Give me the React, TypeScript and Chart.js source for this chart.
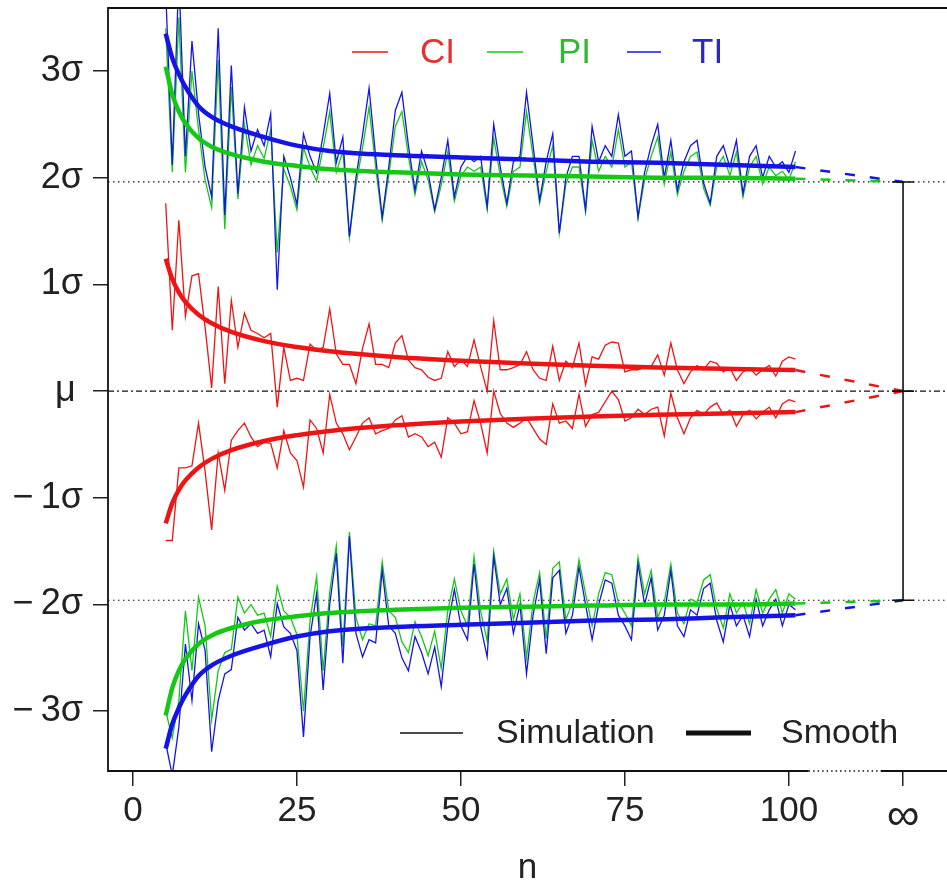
import React, { useEffect, useRef } from 'react';
import { Chart, registerables } from 'chart.js';

Chart.register(...registerables);

// ---------- data ----------
const simN: number[] = Array.from({ length: 97 }, (_, i) => i + 5); // n = 5 .. 101

const tiUpper = [3.75, 2.12, 3.9, 2.2, 3.28, 2.6, 2.1, 1.82, 3.4, 1.65, 3.05, 1.85, 2.66, 2.25, 2.45, 2.3, 2.6, 0.95, 2.2, 2.0,
  1.75, 2.41, 2.2, 2.05, 2.4, 2.79, 2.14, 2.38, 1.45, 2.0, 2.4, 2.84, 2.2, 1.63, 2.1, 2.63, 2.8, 2.3, 1.88, 2.25,
  2.05, 1.7, 2.0, 2.35, 1.82, 2.1, 2.2, 2.15, 2.2, 1.73, 2.5, 2.1, 1.76, 2.15, 2.2, 2.8, 2.3, 1.79, 2.15, 2.41,
  1.48, 2.0, 2.2, 2.2, 1.7, 2.48, 2.15, 2.3, 2.2, 2.59, 2.2, 2.25, 1.63, 2.05, 2.3, 2.5, 2.0, 2.35, 1.88, 2.15,
  2.3, 2.35, 1.95, 1.76, 2.2, 2.3, 2.1, 2.35, 1.85, 2.2, 2.3, 2.0, 2.2, 2.1, 2.15, 2.05, 2.25];

const piUpper = [3.4, 2.05, 3.5, 2.05, 3.0, 2.45, 1.98, 1.72, 3.1, 1.52, 2.85, 1.8, 2.5, 2.12, 2.3, 2.18, 2.45, 1.3, 2.08, 1.92,
  1.7, 2.28, 2.1, 1.97, 2.28, 2.62, 2.05, 2.25, 1.44, 1.93, 2.28, 2.66, 2.1, 1.6, 2.02, 2.48, 2.62, 2.2, 1.84, 2.15,
  1.98, 1.68, 1.93, 2.24, 1.78, 2.02, 2.1, 2.06, 2.1, 1.7, 2.37, 2.02, 1.73, 2.06, 2.1, 2.62, 2.2, 1.76, 2.06, 2.3,
  1.48, 1.94, 2.1, 2.1, 1.68, 2.35, 2.06, 2.2, 2.1, 2.45, 2.1, 2.15, 1.62, 1.98, 2.2, 2.38, 1.94, 2.24, 1.84, 2.06,
  2.2, 2.24, 1.9, 1.74, 2.1, 2.2, 2.02, 2.24, 1.82, 2.1, 2.2, 1.94, 2.1, 2.02, 2.06, 1.98, 2.15];

const ciUpper = [1.76, 0.57, 1.6, 0.7, 1.08, 1.1, 0.6, 0.03, 0.98, 0.07, 0.85, 0.41, 0.73, 0.57, 0.54, 0.5, 0.54, -0.15, 0.41, 0.1,
  0.12, 0.1, 0.44, 0.38, 0.41, 0.77, 0.35, 0.25, 0.25, 0.07, 0.4, 0.63, 0.25, 0.25, 0.22, 0.45, 0.52, 0.29, 0.22, 0.2,
  0.13, 0.1, 0.12, 0.37, 0.23, 0.29, 0.23, 0.48, 0.23, 0.0, 0.66, 0.2, 0.2, 0.22, 0.25, 0.37, 0.2, 0.12, 0.1, 0.42,
  0.1, 0.28, 0.22, 0.45, 0.06, 0.32, 0.3, 0.43, 0.46, 0.45, 0.18, 0.2, 0.2, 0.22, 0.23, 0.34, 0.15, 0.45, 0.2, 0.07,
  0.18, 0.24, 0.2, 0.28, 0.26, 0.18, 0.22, 0.1, 0.18, 0.22, 0.15, 0.2, 0.24, 0.14, 0.28, 0.32, 0.3];

const ciLower = [-1.4, -1.4, -0.72, -0.72, -0.7, -0.3, -0.75, -1.3, -0.58, -0.93, -0.46, -0.37, -0.3, -0.43, -0.52, -0.48, -0.49, -0.72, -0.37, -0.58,
  -0.65, -0.9, -0.27, -0.35, -0.58, -0.03, -0.3, -0.4, -0.55, -0.43, -0.3, -0.25, -0.4, -0.37, -0.35, -0.27, -0.23, -0.43, -0.4, -0.43,
  -0.52, -0.48, -0.62, -0.25, -0.3, -0.4, -0.38, -0.09, -0.3, -0.58, 0.0, -0.21, -0.3, -0.34, -0.3, -0.25, -0.35, -0.45, -0.5, -0.12,
  -0.3, -0.28, -0.35, -0.03, -0.33, -0.22, -0.2, -0.1, 0.0, -0.08, -0.28, -0.25, -0.17, -0.22, -0.17, -0.15, -0.42, -0.02, -0.25, -0.4,
  -0.25, -0.18, -0.22, -0.15, -0.11, -0.22, -0.18, -0.33, -0.22, -0.18, -0.26, -0.2, -0.15, -0.25, -0.12, -0.08, -0.1];

const tiLower = [-3.3, -3.6, -3.15, -2.37, -2.9, -2.18, -2.43, -3.38, -2.9, -2.65, -2.61, -2.12, -2.24, -2.18, -2.27, -2.24, -2.49, -1.99, -2.21, -2.27,
  -2.43, -3.24, -2.3, -1.9, -2.8, -2.0, -1.52, -2.55, -1.36, -2.27, -2.49, -2.33, -2.36, -1.68, -2.2, -2.27, -2.5, -2.62, -2.3, -2.45,
  -2.65, -2.4, -2.77, -2.2, -1.86, -2.2, -2.33, -1.62, -2.2, -2.49, -1.55, -2.0, -1.85, -2.27, -2.0, -2.65, -2.1, -1.77, -2.46, -1.75,
  -1.68, -2.27, -2.1, -1.65, -2.0, -2.33, -2.0, -1.77, -1.8, -2.1, -2.2, -2.33, -1.62, -2.0, -1.75, -2.24, -2.1, -1.68, -2.2, -2.3,
  -2.05, -2.1, -1.85, -1.8, -2.15, -2.35, -2.0, -2.2, -2.1, -2.3, -1.95, -2.2, -2.05, -1.95, -2.2, -2.0, -2.05];

const piLower = [-3.0, -3.25, -2.9, -2.06, -2.62, -1.93, -2.2, -3.08, -2.62, -2.45, -2.42, -1.93, -2.08, -2.0, -2.1, -2.08, -2.3, -1.83, -2.06, -2.12,
  -2.28, -3.0, -2.15, -1.74, -2.62, -1.88, -1.45, -2.4, -1.32, -2.12, -2.33, -2.18, -2.2, -1.6, -2.06, -2.12, -2.35, -2.45, -2.16, -2.3,
  -2.48, -2.25, -2.6, -2.06, -1.76, -2.06, -2.2, -1.55, -2.06, -2.34, -1.5, -1.9, -1.76, -2.14, -1.9, -2.5, -1.98, -1.7, -2.32, -1.66,
  -1.6, -2.14, -1.98, -1.58, -1.9, -2.2, -1.9, -1.7, -1.72, -1.98, -2.08, -2.2, -1.56, -1.9, -1.68, -2.12, -1.98, -1.62, -2.08, -2.18,
  -1.95, -1.98, -1.77, -1.72, -2.04, -2.22, -1.9, -2.08, -1.98, -2.18, -1.86, -2.08, -1.95, -1.86, -2.08, -1.9, -1.95];

// smooth curves (read at selected n)
const smoothN = [5, 6, 7, 8, 10, 12, 15, 20, 25, 30, 40, 50, 60, 70, 80, 90, 101];
const ciSmooth = [1.24, 1.05, 0.925, 0.836, 0.715, 0.635, 0.554, 0.468, 0.413, 0.373, 0.32, 0.284, 0.258, 0.238, 0.222, 0.209, 0.197];
const piSmooth = [3.04, 2.78, 2.62, 2.51, 2.37, 2.29, 2.22, 2.15, 2.11, 2.08, 2.05, 2.03, 2.02, 2.01, 2.0, 2.0, 1.99];
const tiSmooth = [3.35, 3.12, 2.97, 2.85, 2.67, 2.57, 2.48, 2.38, 2.3, 2.25, 2.21, 2.19, 2.17, 2.15, 2.14, 2.12, 2.1];

// limits at n = infinity
const INF = 117.4;
const limitInf = 1.96;
const ciInf = 0;

const xTicks = [0, 25, 50, 75, 100, INF];
const yTicks = [-3, -2, -1, 0, 1, 2, 3];
const yTickLabels = ['\u2212\u20093\u03c3', '\u2212\u20092\u03c3', '\u2212\u20091\u03c3', '\u03bc\u2009', '1\u03c3', '2\u03c3', '3\u03c3'];

const X_MIN = -3.8;
const X_MAX = 124.1;
const Y_MIN = -3.56;
const Y_MAX = 3.59;
const BREAK_START = 103;
const BREAK_END = 114;

const RED = '#ee1414';
const GREEN = '#14c814';
const BLUE = '#1414e8';
const INK = '#222222';
const FONT = '"Liberation Sans", Arial, sans-serif';

const legendTop = [
  { label: 'CI', color: RED, text_color: '#e83030', line: [352, 388], text: 420 },
  { label: 'PI', color: GREEN, text_color: '#30b830', line: [487, 523], text: 558 },
  { label: 'TI', color: BLUE, text_color: '#2a2ac0', line: [627, 661], text: 692 },
];

function pts(xs: number[], ys: number[]) {
  return xs.map((x, i) => ({ x, y: ys[i] }));
}

function ds(label: string, data: any[], color: string, width: number, order: number, extra: any = {}) {
  return {
    label,
    data,
    borderColor: color,
    backgroundColor: color,
    borderWidth: width,
    pointRadius: 0,
    fill: false,
    tension: 0,
    order,
    ...extra,
  };
}

const decorPlugin = {
  id: 'decor',
  afterDatasetsDraw(chart: any) {
    const { ctx, chartArea, scales } = chart;
    const { left, top, right, bottom } = chartArea;
    const x = scales.x;
    const y = scales.y;
    ctx.save();
    // bracket caps at infinity
    const xi = x.getPixelForValue(INF);
    ctx.strokeStyle = '#111';
    ctx.lineWidth = 1.6;
    ctx.setLineDash([]);
    ctx.beginPath();
    [limitInf, -limitInf, ciInf].forEach((v) => {
      const py = y.getPixelForValue(v);
      ctx.moveTo(xi - 11, py);
      ctx.lineTo(xi + 11, py);
    });
    ctx.stroke();

    // box with axis break
    const bs = x.getPixelForValue(BREAK_START);
    const be = x.getPixelForValue(BREAK_END);
    ctx.strokeStyle = '#111';
    ctx.lineWidth = 1.8;
    ctx.beginPath();
    ctx.moveTo(right + 2, top);
    ctx.lineTo(left, top);
    ctx.lineTo(left, bottom);
    ctx.lineTo(bs, bottom);
    ctx.moveTo(be, bottom);
    ctx.lineTo(right + 2, bottom);
    ctx.stroke();
    ctx.lineWidth = 1.3;
    ctx.setLineDash([1.5, 3]);
    ctx.beginPath();
    ctx.moveTo(bs, bottom);
    ctx.lineTo(be, bottom);
    ctx.stroke();
    ctx.setLineDash([]);

    // top legend
    ctx.font = `35px ${FONT}`;
    ctx.textBaseline = 'middle';
    ctx.textAlign = 'left';
    const ly = 52;
    legendTop.forEach((it) => {
      ctx.strokeStyle = it.color;
      ctx.lineWidth = 1.6;
      ctx.beginPath();
      ctx.moveTo(it.line[0], ly);
      ctx.lineTo(it.line[1], ly);
      ctx.stroke();
      ctx.fillStyle = it.text_color;
      ctx.fillText(it.label, it.text, ly + 1);
    });

    // bottom legend
    const by = 733;
    ctx.font = `34px ${FONT}`;
    ctx.strokeStyle = '#111';
    ctx.lineWidth = 1.6;
    ctx.beginPath();
    ctx.moveTo(400, by);
    ctx.lineTo(463, by);
    ctx.stroke();
    ctx.lineWidth = 5;
    ctx.beginPath();
    ctx.moveTo(686, by);
    ctx.lineTo(751, by);
    ctx.stroke();
    ctx.fillStyle = INK;
    ctx.fillText('Simulation', 496, by + 1);
    ctx.fillText('Smooth', 781, by + 1);
    ctx.restore();
  },
};

export default function App() {
  const ref = useRef<HTMLCanvasElement | null>(null);

  useEffect(() => {
    if (!ref.current) return;
    const simW = 1.3;
    const smW = 4.5;
    const dash = { borderDash: [10, 15] };
    const datasets: any[] = [
      // reference lines
      ds('upper limit', pts([X_MIN, X_MAX], [limitInf, limitInf]), '#111', 1.2, 20, { borderDash: [1.5, 3.5] }),
      ds('lower limit', pts([X_MIN, X_MAX], [-limitInf, -limitInf]), '#111', 1.2, 20, { borderDash: [1.5, 3.5] }),
      ds('mu', pts([X_MIN, X_MAX], [0, 0]), '#111', 1.2, 20, { borderDash: [6, 3, 2, 3] }),
      ds('bracket', pts([INF, INF], [-limitInf, limitInf]), '#111', 1.6, 0),
      // simulations
      ds('CI sim up', pts(simN, ciUpper), RED, simW, 12),
      ds('CI sim lo', pts(simN, ciLower), RED, simW, 12),
      ds('PI sim up', pts(simN, piUpper), GREEN, simW, 11),
      ds('PI sim lo', pts(simN, piLower), GREEN, simW, 11),
      ds('TI sim up', pts(simN, tiUpper), BLUE, simW, 10),
      ds('TI sim lo', pts(simN, tiLower), BLUE, simW, 10),
      // dashed extensions to infinity
      ds('CI ext up', pts([101, INF], [ciSmooth[ciSmooth.length - 1], ciInf]), RED, 2.5, 6, dash),
      ds('CI ext lo', pts([101, INF], [-ciSmooth[ciSmooth.length - 1], ciInf]), RED, 2.5, 6, dash),
      ds('PI ext up', pts([101, INF], [piSmooth[piSmooth.length - 1], limitInf]), GREEN, 2.5, 5, dash),
      ds('PI ext lo', pts([101, INF], [-piSmooth[piSmooth.length - 1], -limitInf]), GREEN, 2.5, 5, dash),
      ds('TI ext up', pts([101, INF], [tiSmooth[tiSmooth.length - 1], limitInf]), BLUE, 2.5, 4, dash),
      ds('TI ext lo', pts([101, INF], [-tiSmooth[tiSmooth.length - 1], -limitInf]), BLUE, 2.5, 4, dash),
      // smooth curves
      ds('CI up', pts(smoothN, ciSmooth), RED, smW, 3, { cubicInterpolationMode: 'monotone' }),
      ds('CI lo', pts(smoothN, ciSmooth.map((v) => -v)), RED, smW, 3, { cubicInterpolationMode: 'monotone' }),
      ds('PI up', pts(smoothN, piSmooth), GREEN, smW, 2, { cubicInterpolationMode: 'monotone' }),
      ds('PI lo', pts(smoothN, piSmooth.map((v) => -v)), GREEN, smW, 2, { cubicInterpolationMode: 'monotone' }),
      ds('TI up', pts(smoothN, tiSmooth), BLUE, smW, 1, { cubicInterpolationMode: 'monotone' }),
      ds('TI lo', pts(smoothN, tiSmooth.map((v) => -v)), BLUE, smW, 1, { cubicInterpolationMode: 'monotone' }),
    ];

    const chart = new Chart(ref.current, {
      type: 'line',
      data: { datasets },
      plugins: [decorPlugin],
      options: {
        animation: false,
        responsive: false,
        maintainAspectRatio: false,
        events: [],
        layout: { padding: { top: 8, left: 0, right: 0, bottom: 0 } },
        plugins: { legend: { display: false }, tooltip: { enabled: false } },
        scales: {
          x: {
            type: 'linear',
            min: X_MIN,
            max: X_MAX,
            afterBuildTicks: (s: any) => {
              s.ticks = xTicks.map((v) => ({ value: v }));
            },
            afterFit: (s: any) => {
              s.height = 117;
              s.paddingLeft = 0;
              s.paddingRight = 0;
            },
            border: { display: false },
            grid: { drawOnChartArea: false, drawTicks: true, tickLength: 15, color: INK, lineWidth: 1.5 },
            ticks: {
              autoSkip: false,
              maxRotation: 0,
              padding: 4,
              color: INK,
              font: (c: any) => (c.tick && c.tick.value === INF ? { family: FONT, size: 46 } : { family: FONT, size: 35 }),
              callback: (v: any) => (v === INF ? '\u221e' : String(v)),
            },
            title: {
              display: true,
              text: 'n',
              color: INK,
              font: { family: FONT, size: 35, lineHeight: 1 },
              padding: { top: 0, bottom: 2 },
            },
          },
          y: {
            type: 'linear',
            min: Y_MIN,
            max: Y_MAX,
            afterBuildTicks: (s: any) => {
              s.ticks = yTicks.map((v) => ({ value: v }));
            },
            afterFit: (s: any) => {
              s.width = 108;
              s.paddingTop = 0;
              s.paddingBottom = 0;
            },
            border: { display: false },
            grid: { drawOnChartArea: false, drawTicks: true, tickLength: 15, color: INK, lineWidth: 1.5 },
            ticks: {
              autoSkip: false,
              padding: 10,
              color: INK,
              font: { family: FONT, size: 36 },
              callback: (v: any) => yTickLabels[yTicks.indexOf(v)],
            },
          },
        },
      },
    });
    return () => chart.destroy();
  }, []);

  return (
    <div style={{ position: 'absolute', left: 0, top: 0, width: 947, height: 888, background: '#fff' }}>
      <canvas ref={ref} width={947} height={888} style={{ display: 'block', width: 947, height: 888 }} />
    </div>
  );
}
